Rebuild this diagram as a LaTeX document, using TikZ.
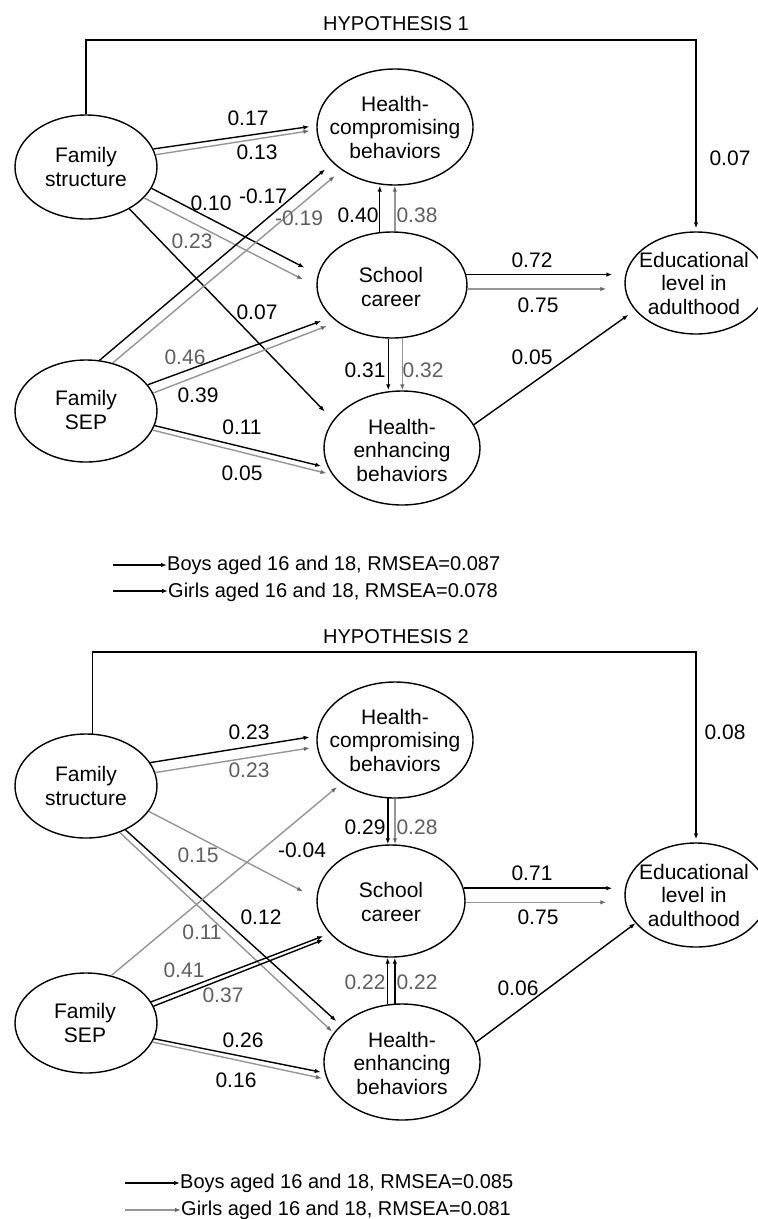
\documentclass[tikz,border=0pt]{standalone}
\usepackage{fontspec}
\setmainfont{Liberation Sans}
\usetikzlibrary{shapes.geometric,arrows.meta,calc}
\definecolor{girlgray}{RGB}{150,150,150}
\definecolor{labgray}{RGB}{95,95,95}
\newcommand{\fsz}{\fontsize{21}{23.5}\selectfont}
\newcommand{\fsl}{\fontsize{20}{23.5}\selectfont}
\tikzset{
  ell/.style={ellipse, draw, line width=1.4pt, inner sep=0pt},
  txt/.style={align=center, font=\fsz, inner sep=0pt},
  lab/.style={font=\fsz, inner sep=0pt},
  leg/.style={font=\fsl, inner sep=0pt},
  glab/.style={lab, text=labgray},
  boy/.style={draw=black, line width=1.4pt, -{Latex[length=6pt,width=4.5pt]}},
  girl/.style={draw=girlgray, line width=1.4pt, -{Latex[length=6pt,width=4.5pt,color=girlgray!70!black]}},
}
\begin{document}
\begin{tikzpicture}[x=1pt,y=-1pt]
\useasboundingbox[fill=white] (0,0) rectangle (758,1219);

%%%%%%%%%%%%%%%% HYPOTHESIS 1
\node[leg] (h1) at (396,24) {HYPOTHESIS 1};
\node[ell, minimum width=142pt, minimum height=104pt] (fs1) at (86,167) {};
\node[ell, minimum width=156pt, minimum height=116pt] (hc1) at (395,127) {};
\node[ell, minimum width=150pt, minimum height=106pt] (sc1) at (392,285) {};
\node[ell, minimum width=156pt, minimum height=114pt] (he1) at (402,448) {};
\node[ell, minimum width=142pt, minimum height=102pt] (ed1) at (696,283) {};
\node[ell, minimum width=142pt, minimum height=102pt] (sep1) at (86,411) {};
\node[txt] (fs1t) at (86,167) {Family\\structure};
\node[txt] (hc1t) at (395,127) {Health-\\compromising\\behaviors};
\node[txt] (sc1t) at (391,287) {School\\career};
\node[txt] (he1t) at (402,450) {Health-\\enhancing\\behaviors};
\node[txt] (ed1t) at (694,283) {Educational\\level in\\adulthood};
\node[txt] (sep1t) at (86,410) {Family\\SEP};

\coordinate (top1) at (0,40);
\draw[boy, shorten >=3pt] (fs1.north) -- (fs1.north |- top1) -- (ed1.north |- top1) -- (ed1.north);
\draw[boy, shorten >=7pt] (fs1.15) -- (hc1.179);
\draw[girl, shorten >=7pt] (fs1.10) -- (hc1.182);
\draw[boy, shorten >=15pt] (fs1.-18) -- (sc1.172);
\draw[girl, shorten >=15pt] (fs1.-28) -- (sc1.181);
\draw[boy, shorten >=12pt] (fs1.-44) -- (he1.158);
\draw[boy, shorten >=10pt] (sep1.75) -- (hc1.210);
\draw[girl, shorten >=9pt] (sep1.61) -- (hc1.219);
\draw[boy, shorten >=11pt] (sep1.23) -- (sc1.208);
\draw[girl, shorten >=11pt] (sep1.15) -- (sc1.214);
\draw[boy, shorten >=7pt] (sep1.-12) -- (he1.195);
\draw[girl, shorten >=6pt] (sep1.-16) -- (he1.201);
\draw[boy] (sc1.103) -- (sc1.103 |- hc1.south);
\draw[girl] (sc1.87) -- (sc1.87 |- hc1.south);
\draw[boy] (sc1.-94) -- (sc1.-94 |- he1.north);
\draw[girl] (sc1.-79) -- (sc1.-79 |- he1.north);
\draw[boy, shorten >=12pt] (sc1.8) -- (sc1.8 -| ed1.west);
\draw[girl, shorten >=18pt] (sc1.-3) -- (sc1.-3 -| ed1.west);
\draw[boy, shorten >=8pt] (he1.18) -- (ed1.204);

\node[lab] (a1) at (730,158) {0.07};
\node[lab] (a2) at (248,118) {0.17};
\node[lab] (a3) at (257,152) {0.13};
\node[lab] (a4) at (211,203) {0.10};
\node[glab] (a5) at (192,241) {0.23};
\node[lab] (a6) at (257,312) {0.07};
\node[lab] (a7) at (263,196) {-0.17};
\node[glab] (a8) at (299,218) {-0.19};
\node[glab] (a9) at (185,357) {0.46};
\node[lab] (a10) at (198,395) {0.39};
\node[lab] (a11) at (242,427) {0.11};
\node[lab] (a12) at (242,473) {0.05};
\node[lab] (a13) at (358,215) {0.40};
\node[glab] (a14) at (417,215) {0.38};
\node[lab] (a15) at (365,370) {0.31};
\node[glab] (a16) at (423,370) {0.32};
\node[lab] (a17) at (532,260) {0.72};
\node[lab] (a18) at (538,305) {0.75};
\node[lab] (a19) at (532,357) {0.05};

\node[leg, anchor=base west] (lt1) at (167,570) {Boys aged 16 and 18, RMSEA=0.087};
\node[leg, anchor=base west] (lt2) at (168,597) {Girls aged 16 and 18, RMSEA=0.078};
\coordinate (lg1) at (113,565);
\coordinate (lg2) at (113,591);
\draw[boy] (lg1) -- (lg1 -| lt1.west);
\draw[boy] (lg2) -- (lg2 -| lt2.west);

%%%%%%%%%%%%%%%% HYPOTHESIS 2
\node[leg] (h2) at (396,637) {HYPOTHESIS 2};
\node[ell, minimum width=142pt, minimum height=104pt] (fs2) at (86,786) {};
\node[ell, minimum width=156pt, minimum height=116pt] (hc2) at (395,740) {};
\node[ell, minimum width=148pt, minimum height=112pt] (sc2) at (391,901) {};
\node[ell, minimum width=156pt, minimum height=116pt] (he2) at (402,1062) {};
\node[ell, minimum width=142pt, minimum height=104pt] (ed2) at (696,895) {};
\node[ell, minimum width=142pt, minimum height=100pt] (sep2) at (86,1023) {};
\node[txt] (fs2t) at (86,786) {Family\\structure};
\node[txt] (hc2t) at (395,740) {Health-\\compromising\\behaviors};
\node[txt] (sc2t) at (391,902) {School\\career};
\node[txt] (he2t) at (402,1063) {Health-\\enhancing\\behaviors};
\node[txt] (ed2t) at (694,895) {Educational\\level in\\adulthood};
\node[txt] (sep2t) at (85,1023) {Family\\SEP};

\coordinate (top2) at (0,652);
\draw[boy, shorten >=3pt] (fs2.83) -- (fs2.83 |- top2) -- (ed2.north |- top2) -- (ed2.north);
\draw[boy, shorten >=7pt] (fs2.20) -- (hc2.177);
\draw[girl, shorten >=7pt] (fs2.11) -- (hc2.185);
\draw[girl, shorten >=15pt] (fs2.-22) -- (sc2.178);
\draw[boy, shorten >=6pt] (fs2.-48) -- (he2.149);
\draw[girl, shorten >=2pt] (fs2.-54) -- (he2.157);
\draw[girl, shorten >=6pt] (sep2.62) -- (hc2.219);
\draw[boy, shorten >=7pt] (sep2.18) -- (sc2.208);
\draw[boy, shorten >=10pt] (sep2.14) -- (sc2.211);
\draw[boy, shorten >=4pt] (sep2.-13) -- (he2.188);
\draw[girl, shorten >=5pt] (sep2.-16) -- (he2.193);
\draw[boy] (hc2.-97) -- (hc2.-97 |- sc2.north);
\draw[girl] (hc2.-90) -- (hc2.-90 |- sc2.north);
\draw[boy] (he2.104) -- (he2.104 |- sc2.south);
\draw[boy] (he2.97) -- (he2.97 |- sc2.south);
\draw[boy, shorten >=12pt] (sc2.10) -- (sc2.10 -| ed2.west);
\draw[girl, shorten >=18pt] (sc2.-1) -- (sc2.-1 -| ed2.west);
\draw[boy] (he2.15) -- (ed2.205);

\node[lab] (b1) at (725,732) {0.08};
\node[lab] (b2) at (249,732) {0.23};
\node[glab] (b3) at (249,770) {0.23};
\node[glab] (b4) at (198,855) {0.15};
\node[lab] (b5) at (302,850) {-0.04};
\node[lab] (b6) at (261,917) {0.12};
\node[glab] (b7) at (202,932) {0.11};
\node[glab] (b8) at (184,970) {0.41};
\node[glab] (b9) at (223,995) {0.37};
\node[lab] (b10) at (243,1040) {0.26};
\node[lab] (b11) at (236,1080) {0.16};
\node[lab] (b12) at (365,827) {0.29};
\node[glab] (b13) at (417,827) {0.28};
\node[glab] (b14) at (365,982) {0.22};
\node[glab] (b15) at (417,982) {0.22};
\node[lab] (b16) at (532,873) {0.71};
\node[lab] (b17) at (538,917) {0.75};
\node[lab] (b18) at (518,988) {0.06};

\node[leg, anchor=base west] (lt3) at (180,1188) {Boys aged 16 and 18, RMSEA=0.085};
\node[leg, anchor=base west] (lt4) at (181,1215) {Girls aged 16 and 18, RMSEA=0.081};
\coordinate (lg3) at (125,1183);
\coordinate (lg4) at (125,1210);
\draw[boy] (lg3) -- (lg3 -| lt3.west);
\draw[girl] (lg4) -- (lg4 -| lt4.west);
\end{tikzpicture}
\end{document}
